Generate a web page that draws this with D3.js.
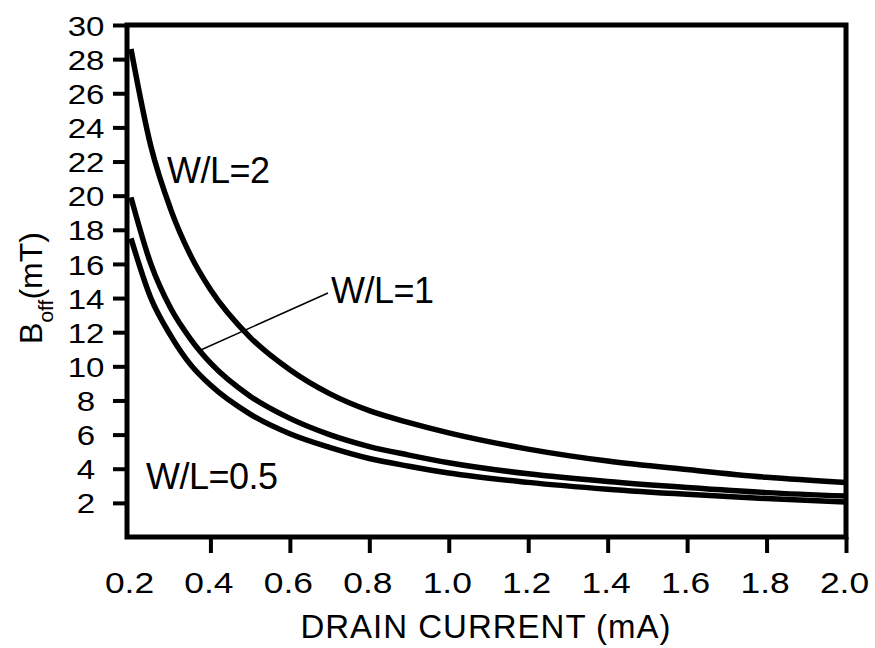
<!DOCTYPE html>
<html>
<head>
<meta charset="utf-8">
<script src="https://cdn.jsdelivr.net/npm/d3@7"></script>
<style>
  body { margin: 0; background: #fff; }
  svg { display: block; font-family: "Liberation Sans", Arial, sans-serif; }
</style>
</head>
<body>
<svg id="chart"></svg>
<script>
// Data
var current = [0.2, 0.25, 0.3, 0.35, 0.4, 0.5, 0.6, 0.7, 0.8, 0.9, 1.0, 1.2, 1.4, 1.6, 1.8, 2.0];
var wl2 = [28.6, 22.9, 19.2, 16.5, 14.5, 11.7, 9.8, 8.4, 7.4, 6.7, 6.1, 5.15, 4.45, 3.95, 3.5, 3.2];
var wl1 = [19.9, 16.0, 13.4, 11.6, 10.2, 8.25, 6.95, 6.0, 5.3, 4.8, 4.35, 3.7, 3.25, 2.9, 2.6, 2.4];
var wl05 = [17.5, 14.0, 11.8, 10.1, 8.9, 7.2, 6.05, 5.25, 4.6, 4.15, 3.75, 3.2, 2.8, 2.5, 2.25, 2.05];
var xTicks = [0.2, 0.4, 0.6, 0.8, 1.0, 1.2, 1.4, 1.6, 1.8, 2.0];
var yTicks = [2, 4, 6, 8, 10, 12, 14, 16, 18, 20, 22, 24, 26, 28, 30];

var width = 875, height = 648;
var margin = { left: 127, right: 846, top: 25, bottom: 537 };

var svg = d3.select("#chart").attr("width", width).attr("height", height);

var x = d3.scaleLinear().domain([0.19, 2.0]).range([margin.left, margin.right]);
var y = d3.scaleLinear().domain([0, 30]).range([margin.bottom, margin.top]);

// y axis: ticks outward, labels centred in the gutter
var gy = svg.append("g").attr("transform", "translate(" + margin.left + ",0)")
    .call(d3.axisLeft(y).tickValues(yTicks).tickSize(14).tickFormat(d3.format("d")));
gy.select(".domain").remove();
gy.selectAll(".tick line").attr("stroke", "#000").attr("stroke-width", 4);
gy.selectAll(".tick text")
    .attr("x", 0).attr("dy", "0.36em")
    .attr("text-anchor", "middle")
    .attr("transform", "translate(-41,0) scale(1.18,1)")
    .style("font-size", "28px").attr("fill", "#000");

// x axis
var gx = svg.append("g").attr("transform", "translate(0," + margin.bottom + ")")
    .call(d3.axisBottom(x).tickValues(xTicks).tickSize(16).tickFormat(d3.format(".1f")));
gx.select(".domain").remove();
gx.selectAll(".tick line").attr("stroke", "#000").attr("stroke-width", 4)
    .attr("display", function (d) { return d === 0.2 ? "none" : null; });
gx.selectAll(".tick text")
    .attr("y", null).attr("dy", null)
    .attr("transform", "translate(-2,56) scale(1.18,1)")
    .style("font-size", "30px").attr("fill", "#000");

// frame
svg.append("rect")
    .attr("x", margin.left).attr("y", margin.top)
    .attr("width", margin.right - margin.left).attr("height", margin.bottom - margin.top)
    .attr("fill", "none").attr("stroke", "#000").attr("stroke-width", 5);

// curves
var line = d3.line()
    .x(function (d) { return x(d[0]); })
    .y(function (d) { return y(d[1]); })
    .curve(d3.curveMonotoneX);

[wl2, wl1, wl05].forEach(function (s) {
    svg.append("path")
        .datum(current.map(function (c, i) { return [c, s[i]]; }))
        .attr("d", line)
        .attr("fill", "none")
        .attr("stroke", "#000")
        .attr("stroke-width", 5.5)
        .attr("stroke-linejoin", "round");
});

// curve labels
var labels = [
    { text: "W/L=2", x: 167, y: 183 },
    { text: "W/L=1", x: 331, y: 303 },
    { text: "W/L=0.5", x: 146, y: 489 }
];
svg.selectAll(".lab").data(labels).enter().append("text")
    .attr("class", "lab")
    .attr("x", function (d) { return d.x; })
    .attr("y", function (d) { return d.y; })
    .attr("letter-spacing", -0.5)
    .style("font-size", "36px")
    .text(function (d) { return d.text; });

// leader line for W/L=1
svg.append("line")
    .attr("x1", x(0.37)).attr("y1", y(10.9))
    .attr("x2", 328).attr("y2", 293)
    .attr("stroke", "#000").attr("stroke-width", 1.5);

// axis titles
svg.append("text")
    .attr("x", 486).attr("y", 638)
    .attr("text-anchor", "middle")
    .attr("letter-spacing", 1)
    .style("font-size", "33px")
    .text("DRAIN CURRENT (mA)");

var yt = svg.append("text")
    .attr("transform", "translate(42,288) rotate(-90)")
    .attr("text-anchor", "middle")
    .style("font-size", "32px");
yt.append("tspan").text("B");
yt.append("tspan").attr("dy", 11).style("font-size", "21px").text("off");
yt.append("tspan").attr("dy", -11).text("(mT)");
</script>
</body>
</html>
